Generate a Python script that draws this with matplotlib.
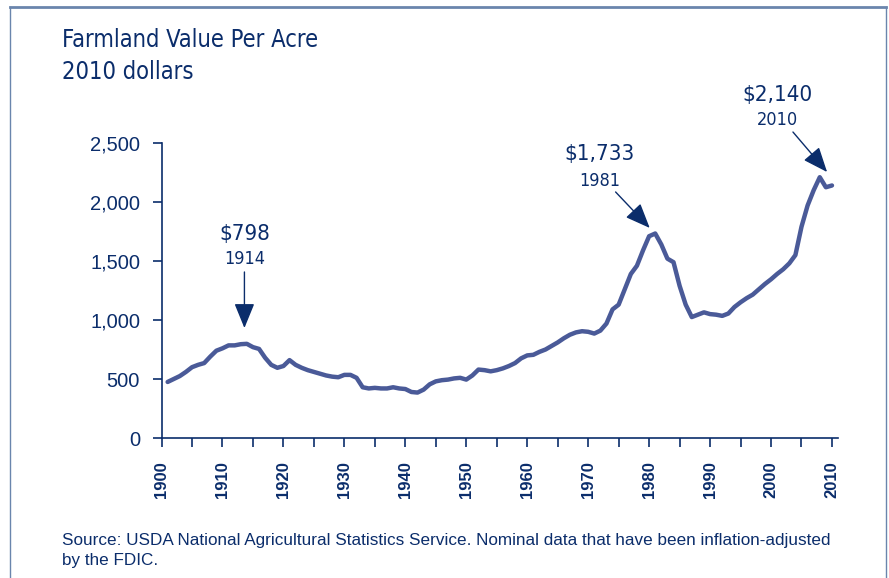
import matplotlib
matplotlib.use("Agg")
import matplotlib.pyplot as plt
from matplotlib.lines import Line2D

# farmland value per acre, 2010 dollars
years = list(range(1901, 2011))
values = [475, 500, 525, 560, 600, 620, 635, 690, 740, 760,
          785, 785, 795, 798, 770, 755, 680, 620, 595, 610,
          660, 620, 595, 575, 560, 545, 530, 520, 515, 535,
          535, 510, 430, 420, 425, 420, 420, 430, 420, 415,
          390, 385, 410, 455, 480, 490, 495, 505, 510, 495,
          530, 580, 575, 565, 575, 590, 610, 635, 675, 700,
          705, 730, 750, 780, 810, 845, 875, 895, 905, 900,
          885, 910, 970, 1090, 1130, 1260, 1390, 1460, 1590, 1710,
          1733, 1640, 1520, 1490, 1290, 1130, 1025, 1045, 1065, 1050,
          1045, 1035, 1055, 1110, 1150, 1185, 1215, 1260, 1305, 1345,
          1390, 1430, 1480, 1550, 1790, 1970, 2100, 2210, 2125, 2140]

yticks = [0, 500, 1000, 1500, 2000, 2500]
ytick_labels = ["0", "500", "1,000", "1,500", "2,000", "2,500"]
xticks = list(range(1900, 2011, 10))
xminor = list(range(1905, 2011, 10))

# peaks: (value label, year label, text x, value y, year y, arrow tail, arrow tip)
peaks = [
    ("$798", "1914", 1913.6, 1729, 1517, (1913.6, 1407), (1913.6, 932)),
    ("$1,733", "1981", 1971.9, 2407, 2178, (1974.5, 2085), (1980.1, 1780)),
    ("$2,140", "2010", 2001.1, 2907, 2695, (2003.6, 2593), (2009.2, 2254)),
]

navy = "#0b2d6b"
line_col = "#4a5a98"
frame_col = "#6a85ad"
cond = dict(family="DejaVu Sans", stretch="condensed")

fig = plt.figure(figsize=(8.89, 5.78), dpi=100)
ax = fig.add_axes([0.1817, 0.2422, 0.761, 0.5104])

ax.plot(years, values, color=line_col, lw=3.2, solid_capstyle="round",
        solid_joinstyle="round")

ax.set_xlim(1900, 2011)
ax.set_ylim(0, 2500)
for s in ["top", "right"]:
    ax.spines[s].set_visible(False)
for s in ["left", "bottom"]:
    ax.spines[s].set_color(navy)
    ax.spines[s].set_linewidth(1.2)

ax.set_yticks(yticks)
ax.set_yticklabels(ytick_labels, fontsize=14.5, color=navy,
                   family="Liberation Sans")
ax.set_xticks(xticks)
ax.set_xticklabels([str(x) for x in xticks], rotation=90, fontsize=12,
                   fontweight="bold", color=navy, family="Liberation Sans")
ax.set_xticks(xminor, minor=True)
ax.tick_params(axis="both", which="both", direction="out", length=6.5,
               width=1.2, color=navy)
ax.tick_params(axis="x", which="major", pad=10)
ax.tick_params(axis="y", pad=9)

for val, yr, tx, vy, yy, tail, tip in peaks:
    ax.text(tx, vy, val, ha="center", va="center", fontsize=16,
            color=navy, **cond)
    ax.text(tx, yy, yr, ha="center", va="center", fontsize=13,
            color=navy, **cond)
    ax.annotate("", xy=tip, xytext=tail,
                arrowprops=dict(arrowstyle="-|>,head_length=1.1,head_width=0.45",
                                mutation_scale=14, color=navy, lw=1.0,
                                shrinkA=0, shrinkB=0))

fig.text(62 / 889, 1 - 40 / 578, "Farmland Value Per Acre", fontsize=17,
         color=navy, va="center", **cond)
fig.text(62 / 889, 1 - 72 / 578, "2010 dollars", fontsize=17,
         color=navy, va="center", **cond)

fig.text(62 / 889, 1 - 540 / 578,
         "Source: USDA National Agricultural Statistics Service. Nominal data that have been inflation-adjusted",
         fontsize=12.3, color=navy, family="Liberation Sans", va="center")
fig.text(62 / 889, 1 - 560 / 578, "by the FDIC.",
         fontsize=12.3, color=navy, family="Liberation Sans", va="center")

# frame around the panel
fig.add_artist(Line2D([10 / 889, 886 / 889], [1 - 7 / 578, 1 - 7 / 578],
                      color=frame_col, lw=2.0, transform=fig.transFigure))
fig.add_artist(Line2D([10 / 889, 10 / 889], [1 - 7 / 578, 0],
                      color=frame_col, lw=1.0, transform=fig.transFigure))
fig.add_artist(Line2D([886 / 889, 886 / 889], [1 - 7 / 578, 0],
                      color=frame_col, lw=1.0, transform=fig.transFigure))

fig.savefig("out.png", dpi=100)
